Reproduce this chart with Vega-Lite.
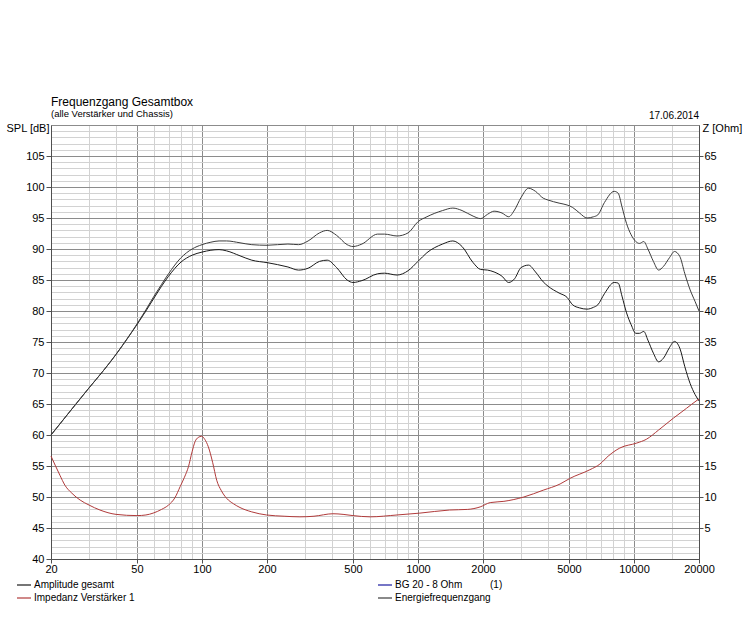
{
  "$schema": "https://vega.github.io/schema/vega-lite/v6.json",
  "width": 648,
  "height": 434,
  "autosize": {"type": "none"},
  "padding": {"left": 51, "top": 125, "right": 52, "bottom": 84},
  "background": "white",
  "config": {
    "font": "Liberation Sans",
    "view": {"stroke": "#707070"},
    "axis": {"labelFontSize": 11, "labelColor": "black", "titleFontSize": 11, "titleFontWeight": "normal", "titleColor": "black", "domainColor": "#505050", "tickColor": "#505050"}
  },
  "title": {
    "text": "Frequenzgang Gesamtbox",
    "subtitle": "(alle Verstärker und Chassis)",
    "anchor": "start",
    "frame": "group",
    "fontSize": 12,
    "fontWeight": "normal",
    "color": "black",
    "subtitleFontSize": 9.5,
    "subtitleColor": "black",
    "subtitlePadding": 0,
    "offset": -8
  },
  "datasets": {
    "spl": [
      {"f": 20, "v": 60.0, "s": "Amplitude gesamt"},
      {"f": 25, "v": 64.2, "s": "Amplitude gesamt"},
      {"f": 30, "v": 67.6, "s": "Amplitude gesamt"},
      {"f": 35, "v": 70.4, "s": "Amplitude gesamt"},
      {"f": 40, "v": 73.0, "s": "Amplitude gesamt"},
      {"f": 45, "v": 75.5, "s": "Amplitude gesamt"},
      {"f": 50, "v": 77.8, "s": "Amplitude gesamt"},
      {"f": 55, "v": 80.0, "s": "Amplitude gesamt"},
      {"f": 60, "v": 82.1, "s": "Amplitude gesamt"},
      {"f": 65, "v": 84.0, "s": "Amplitude gesamt"},
      {"f": 70, "v": 85.6, "s": "Amplitude gesamt"},
      {"f": 80, "v": 87.9, "s": "Amplitude gesamt"},
      {"f": 90, "v": 89.0, "s": "Amplitude gesamt"},
      {"f": 100, "v": 89.5, "s": "Amplitude gesamt"},
      {"f": 110, "v": 89.8, "s": "Amplitude gesamt"},
      {"f": 120, "v": 89.9, "s": "Amplitude gesamt"},
      {"f": 130, "v": 89.7, "s": "Amplitude gesamt"},
      {"f": 150, "v": 88.9, "s": "Amplitude gesamt"},
      {"f": 170, "v": 88.2, "s": "Amplitude gesamt"},
      {"f": 200, "v": 87.8, "s": "Amplitude gesamt"},
      {"f": 250, "v": 87.1, "s": "Amplitude gesamt"},
      {"f": 280, "v": 86.6, "s": "Amplitude gesamt"},
      {"f": 310, "v": 86.9, "s": "Amplitude gesamt"},
      {"f": 350, "v": 88.0, "s": "Amplitude gesamt"},
      {"f": 380, "v": 88.2, "s": "Amplitude gesamt"},
      {"f": 420, "v": 87.0, "s": "Amplitude gesamt"},
      {"f": 470, "v": 85.0, "s": "Amplitude gesamt"},
      {"f": 500, "v": 84.6, "s": "Amplitude gesamt"},
      {"f": 550, "v": 84.9, "s": "Amplitude gesamt"},
      {"f": 650, "v": 86.0, "s": "Amplitude gesamt"},
      {"f": 700, "v": 86.1, "s": "Amplitude gesamt"},
      {"f": 800, "v": 85.8, "s": "Amplitude gesamt"},
      {"f": 900, "v": 86.5, "s": "Amplitude gesamt"},
      {"f": 1000, "v": 88.0, "s": "Amplitude gesamt"},
      {"f": 1100, "v": 89.4, "s": "Amplitude gesamt"},
      {"f": 1300, "v": 90.8, "s": "Amplitude gesamt"},
      {"f": 1450, "v": 91.3, "s": "Amplitude gesamt"},
      {"f": 1600, "v": 90.4, "s": "Amplitude gesamt"},
      {"f": 1800, "v": 87.8, "s": "Amplitude gesamt"},
      {"f": 1950, "v": 86.7, "s": "Amplitude gesamt"},
      {"f": 2100, "v": 86.6, "s": "Amplitude gesamt"},
      {"f": 2250, "v": 86.3, "s": "Amplitude gesamt"},
      {"f": 2450, "v": 85.6, "s": "Amplitude gesamt"},
      {"f": 2630, "v": 84.6, "s": "Amplitude gesamt"},
      {"f": 2800, "v": 85.2, "s": "Amplitude gesamt"},
      {"f": 3000, "v": 87.0, "s": "Amplitude gesamt"},
      {"f": 3250, "v": 87.4, "s": "Amplitude gesamt"},
      {"f": 3500, "v": 86.3, "s": "Amplitude gesamt"},
      {"f": 3800, "v": 84.7, "s": "Amplitude gesamt"},
      {"f": 4000, "v": 84.0, "s": "Amplitude gesamt"},
      {"f": 4500, "v": 82.9, "s": "Amplitude gesamt"},
      {"f": 4900, "v": 82.2, "s": "Amplitude gesamt"},
      {"f": 5200, "v": 81.0, "s": "Amplitude gesamt"},
      {"f": 5600, "v": 80.5, "s": "Amplitude gesamt"},
      {"f": 6060, "v": 80.3, "s": "Amplitude gesamt"},
      {"f": 6500, "v": 80.6, "s": "Amplitude gesamt"},
      {"f": 6800, "v": 81.0, "s": "Amplitude gesamt"},
      {"f": 7300, "v": 82.8, "s": "Amplitude gesamt"},
      {"f": 8100, "v": 84.6, "s": "Amplitude gesamt"},
      {"f": 8450, "v": 84.5, "s": "Amplitude gesamt"},
      {"f": 8800, "v": 82.4, "s": "Amplitude gesamt"},
      {"f": 9240, "v": 79.7, "s": "Amplitude gesamt"},
      {"f": 9700, "v": 77.8, "s": "Amplitude gesamt"},
      {"f": 10200, "v": 76.4, "s": "Amplitude gesamt"},
      {"f": 10600, "v": 76.4, "s": "Amplitude gesamt"},
      {"f": 11100, "v": 76.7, "s": "Amplitude gesamt"},
      {"f": 11600, "v": 75.3, "s": "Amplitude gesamt"},
      {"f": 12300, "v": 73.2, "s": "Amplitude gesamt"},
      {"f": 13000, "v": 71.8, "s": "Amplitude gesamt"},
      {"f": 13700, "v": 72.4, "s": "Amplitude gesamt"},
      {"f": 14600, "v": 74.1, "s": "Amplitude gesamt"},
      {"f": 15400, "v": 75.1, "s": "Amplitude gesamt"},
      {"f": 16300, "v": 74.0, "s": "Amplitude gesamt"},
      {"f": 17200, "v": 71.0, "s": "Amplitude gesamt"},
      {"f": 18200, "v": 68.3, "s": "Amplitude gesamt"},
      {"f": 19200, "v": 66.5, "s": "Amplitude gesamt"},
      {"f": 20000, "v": 65.5, "s": "Amplitude gesamt"},
      {"f": 20, "v": 60.0, "s": "Energiefrequenzgang"},
      {"f": 25, "v": 64.2, "s": "Energiefrequenzgang"},
      {"f": 30, "v": 67.6, "s": "Energiefrequenzgang"},
      {"f": 35, "v": 70.4, "s": "Energiefrequenzgang"},
      {"f": 40, "v": 73.0, "s": "Energiefrequenzgang"},
      {"f": 45, "v": 75.5, "s": "Energiefrequenzgang"},
      {"f": 50, "v": 77.9, "s": "Energiefrequenzgang"},
      {"f": 55, "v": 80.2, "s": "Energiefrequenzgang"},
      {"f": 60, "v": 82.4, "s": "Energiefrequenzgang"},
      {"f": 65, "v": 84.3, "s": "Energiefrequenzgang"},
      {"f": 70, "v": 86.0, "s": "Energiefrequenzgang"},
      {"f": 80, "v": 88.6, "s": "Energiefrequenzgang"},
      {"f": 90, "v": 90.0, "s": "Energiefrequenzgang"},
      {"f": 100, "v": 90.7, "s": "Energiefrequenzgang"},
      {"f": 110, "v": 91.1, "s": "Energiefrequenzgang"},
      {"f": 120, "v": 91.3, "s": "Energiefrequenzgang"},
      {"f": 130, "v": 91.3, "s": "Energiefrequenzgang"},
      {"f": 150, "v": 91.0, "s": "Energiefrequenzgang"},
      {"f": 170, "v": 90.7, "s": "Energiefrequenzgang"},
      {"f": 200, "v": 90.6, "s": "Energiefrequenzgang"},
      {"f": 250, "v": 90.8, "s": "Energiefrequenzgang"},
      {"f": 280, "v": 90.7, "s": "Energiefrequenzgang"},
      {"f": 310, "v": 91.3, "s": "Energiefrequenzgang"},
      {"f": 350, "v": 92.6, "s": "Energiefrequenzgang"},
      {"f": 380, "v": 93.0, "s": "Energiefrequenzgang"},
      {"f": 420, "v": 92.2, "s": "Energiefrequenzgang"},
      {"f": 470, "v": 90.7, "s": "Energiefrequenzgang"},
      {"f": 500, "v": 90.4, "s": "Energiefrequenzgang"},
      {"f": 550, "v": 90.8, "s": "Energiefrequenzgang"},
      {"f": 650, "v": 92.4, "s": "Energiefrequenzgang"},
      {"f": 700, "v": 92.4, "s": "Energiefrequenzgang"},
      {"f": 800, "v": 92.1, "s": "Energiefrequenzgang"},
      {"f": 900, "v": 92.6, "s": "Energiefrequenzgang"},
      {"f": 1000, "v": 94.4, "s": "Energiefrequenzgang"},
      {"f": 1100, "v": 95.2, "s": "Energiefrequenzgang"},
      {"f": 1300, "v": 96.2, "s": "Energiefrequenzgang"},
      {"f": 1450, "v": 96.6, "s": "Energiefrequenzgang"},
      {"f": 1600, "v": 96.2, "s": "Energiefrequenzgang"},
      {"f": 1800, "v": 95.3, "s": "Energiefrequenzgang"},
      {"f": 1950, "v": 94.9, "s": "Energiefrequenzgang"},
      {"f": 2100, "v": 95.6, "s": "Energiefrequenzgang"},
      {"f": 2250, "v": 96.1, "s": "Energiefrequenzgang"},
      {"f": 2450, "v": 95.8, "s": "Energiefrequenzgang"},
      {"f": 2630, "v": 95.2, "s": "Energiefrequenzgang"},
      {"f": 2800, "v": 96.3, "s": "Energiefrequenzgang"},
      {"f": 3000, "v": 98.3, "s": "Energiefrequenzgang"},
      {"f": 3250, "v": 99.8, "s": "Energiefrequenzgang"},
      {"f": 3500, "v": 99.3, "s": "Energiefrequenzgang"},
      {"f": 3800, "v": 98.2, "s": "Energiefrequenzgang"},
      {"f": 4000, "v": 97.9, "s": "Energiefrequenzgang"},
      {"f": 4500, "v": 97.4, "s": "Energiefrequenzgang"},
      {"f": 4900, "v": 97.1, "s": "Energiefrequenzgang"},
      {"f": 5200, "v": 96.7, "s": "Energiefrequenzgang"},
      {"f": 5600, "v": 95.8, "s": "Energiefrequenzgang"},
      {"f": 6060, "v": 95.0, "s": "Energiefrequenzgang"},
      {"f": 6500, "v": 95.2, "s": "Energiefrequenzgang"},
      {"f": 6800, "v": 95.5, "s": "Energiefrequenzgang"},
      {"f": 7300, "v": 97.5, "s": "Energiefrequenzgang"},
      {"f": 8100, "v": 99.3, "s": "Energiefrequenzgang"},
      {"f": 8450, "v": 99.0, "s": "Energiefrequenzgang"},
      {"f": 8800, "v": 96.8, "s": "Energiefrequenzgang"},
      {"f": 9240, "v": 94.1, "s": "Energiefrequenzgang"},
      {"f": 9700, "v": 92.3, "s": "Energiefrequenzgang"},
      {"f": 10200, "v": 91.2, "s": "Energiefrequenzgang"},
      {"f": 10600, "v": 90.9, "s": "Energiefrequenzgang"},
      {"f": 11100, "v": 91.2, "s": "Energiefrequenzgang"},
      {"f": 11600, "v": 90.0, "s": "Energiefrequenzgang"},
      {"f": 12300, "v": 88.0, "s": "Energiefrequenzgang"},
      {"f": 13000, "v": 86.6, "s": "Energiefrequenzgang"},
      {"f": 13700, "v": 87.2, "s": "Energiefrequenzgang"},
      {"f": 14600, "v": 88.6, "s": "Energiefrequenzgang"},
      {"f": 15400, "v": 89.6, "s": "Energiefrequenzgang"},
      {"f": 16300, "v": 88.8, "s": "Energiefrequenzgang"},
      {"f": 17200, "v": 86.0, "s": "Energiefrequenzgang"},
      {"f": 18200, "v": 83.4, "s": "Energiefrequenzgang"},
      {"f": 19200, "v": 81.5, "s": "Energiefrequenzgang"},
      {"f": 20000, "v": 80.0, "s": "Energiefrequenzgang"}
    ],
    "imp": [
      {"f": 20, "z": 16.6, "s": "Impedanz Verstärker 1"},
      {"f": 22, "z": 13.5, "s": "Impedanz Verstärker 1"},
      {"f": 23.2, "z": 11.9, "s": "Impedanz Verstärker 1"},
      {"f": 25, "z": 10.6, "s": "Impedanz Verstärker 1"},
      {"f": 27.3, "z": 9.5, "s": "Impedanz Verstärker 1"},
      {"f": 30, "z": 8.7, "s": "Impedanz Verstärker 1"},
      {"f": 33.7, "z": 7.9, "s": "Impedanz Verstärker 1"},
      {"f": 40, "z": 7.2, "s": "Impedanz Verstärker 1"},
      {"f": 50, "z": 7.0, "s": "Impedanz Verstärker 1"},
      {"f": 55, "z": 7.1, "s": "Impedanz Verstärker 1"},
      {"f": 59.4, "z": 7.4, "s": "Impedanz Verstärker 1"},
      {"f": 65, "z": 8.0, "s": "Impedanz Verstärker 1"},
      {"f": 70, "z": 8.7, "s": "Impedanz Verstärker 1"},
      {"f": 75, "z": 9.9, "s": "Impedanz Verstärker 1"},
      {"f": 79.3, "z": 11.7, "s": "Impedanz Verstärker 1"},
      {"f": 83, "z": 13.2, "s": "Impedanz Verstärker 1"},
      {"f": 86.6, "z": 14.9, "s": "Impedanz Verstärker 1"},
      {"f": 90, "z": 17.3, "s": "Impedanz Verstärker 1"},
      {"f": 92.8, "z": 18.9, "s": "Impedanz Verstärker 1"},
      {"f": 96, "z": 19.6, "s": "Impedanz Verstärker 1"},
      {"f": 99.7, "z": 19.8, "s": "Impedanz Verstärker 1"},
      {"f": 103, "z": 19.3, "s": "Impedanz Verstärker 1"},
      {"f": 107, "z": 18.1, "s": "Impedanz Verstärker 1"},
      {"f": 112, "z": 15.6, "s": "Impedanz Verstärker 1"},
      {"f": 117, "z": 12.7, "s": "Impedanz Verstärker 1"},
      {"f": 123, "z": 11.0, "s": "Impedanz Verstärker 1"},
      {"f": 130, "z": 9.8, "s": "Impedanz Verstärker 1"},
      {"f": 140, "z": 8.9, "s": "Impedanz Verstärker 1"},
      {"f": 150, "z": 8.3, "s": "Impedanz Verstärker 1"},
      {"f": 170, "z": 7.6, "s": "Impedanz Verstärker 1"},
      {"f": 199, "z": 7.1, "s": "Impedanz Verstärker 1"},
      {"f": 240, "z": 6.9, "s": "Impedanz Verstärker 1"},
      {"f": 284, "z": 6.8, "s": "Impedanz Verstärker 1"},
      {"f": 330, "z": 6.9, "s": "Impedanz Verstärker 1"},
      {"f": 404, "z": 7.3, "s": "Impedanz Verstärker 1"},
      {"f": 450, "z": 7.2, "s": "Impedanz Verstärker 1"},
      {"f": 500, "z": 7.0, "s": "Impedanz Verstärker 1"},
      {"f": 600, "z": 6.8, "s": "Impedanz Verstärker 1"},
      {"f": 800, "z": 7.1, "s": "Impedanz Verstärker 1"},
      {"f": 1020, "z": 7.4, "s": "Impedanz Verstärker 1"},
      {"f": 1400, "z": 7.9, "s": "Impedanz Verstärker 1"},
      {"f": 1700, "z": 8.0, "s": "Impedanz Verstärker 1"},
      {"f": 1940, "z": 8.4, "s": "Impedanz Verstärker 1"},
      {"f": 2160, "z": 9.1, "s": "Impedanz Verstärker 1"},
      {"f": 2500, "z": 9.3, "s": "Impedanz Verstärker 1"},
      {"f": 3090, "z": 10.0, "s": "Impedanz Verstärker 1"},
      {"f": 3800, "z": 11.1, "s": "Impedanz Verstärker 1"},
      {"f": 4550, "z": 12.1, "s": "Impedanz Verstärker 1"},
      {"f": 5050, "z": 13.0, "s": "Impedanz Verstärker 1"},
      {"f": 6250, "z": 14.4, "s": "Impedanz Verstärker 1"},
      {"f": 6950, "z": 15.3, "s": "Impedanz Verstärker 1"},
      {"f": 7600, "z": 16.6, "s": "Impedanz Verstärker 1"},
      {"f": 8600, "z": 17.9, "s": "Impedanz Verstärker 1"},
      {"f": 10300, "z": 18.7, "s": "Impedanz Verstärker 1"},
      {"f": 11400, "z": 19.3, "s": "Impedanz Verstärker 1"},
      {"f": 13000, "z": 20.8, "s": "Impedanz Verstärker 1"},
      {"f": 15200, "z": 22.7, "s": "Impedanz Verstärker 1"},
      {"f": 17500, "z": 24.3, "s": "Impedanz Verstärker 1"},
      {"f": 19600, "z": 25.6, "s": "Impedanz Verstärker 1"},
      {"f": 20000, "z": 25.8, "s": "Impedanz Verstärker 1"}
    ],
    "date": [{"f": 20000, "d": "17.06.2014"}]
  },
  "resolve": {"scale": {"y": "independent"}},
  "layer": [
    {
      "data": {"name": "spl"},
      "mark": {"type": "line", "strokeWidth": 1, "interpolate": "monotone"},
      "encoding": {
        "x": {
          "field": "f", "type": "quantitative",
          "scale": {"type": "log", "domain": [20, 20000], "nice": false},
          "axis": {
            "title": null,
            "values": [20, 30, 40, 50, 60, 70, 80, 90, 100, 200, 300, 400, 500, 600, 700, 800, 900, 1000, 2000, 3000, 4000, 5000, 6000, 7000, 8000, 9000, 10000, 15000, 20000],
            "format": "d",
            "labelOverlap": false,
            "labelFlush": false,
            "labelPadding": 0,
            "labelExpr": "indexof([20,50,100,200,500,1000,2000,5000,10000,20000], datum.value) >= 0 ? datum.label : ''",
            "grid": true,
            "gridColor": {"condition": {"test": "indexof([50,100,200,500,1000,2000,5000,10000], datum.value) >= 0", "value": "#8c8c8c"}, "value": "#d2d2d2"},
            "tickSize": {"condition": {"test": "indexof([20,50,100,200,500,1000,2000,5000,10000,20000], datum.value) >= 0", "value": 4}, "value": 0}
          }
        },
        "y": {
          "field": "v", "type": "quantitative",
          "scale": {"domain": [40, 110], "nice": false, "zero": false},
          "axis": {
            "title": "SPL [dB]",
            "titleAngle": 0,
            "titleAlign": "right",
            "titleBaseline": "middle",
            "titleX": -2,
            "titleY": 3,
            "values": [40,41,42,43,44,45,46,47,48,49,50,51,52,53,54,55,56,57,58,59,60,61,62,63,64,65,66,67,68,69,70,71,72,73,74,75,76,77,78,79,80,81,82,83,84,85,86,87,88,89,90,91,92,93,94,95,96,97,98,99,100,101,102,103,104,105,106,107,108,109,110],
            "labelOverlap": false,
            "labelFlush": false,
            "labelPadding": 2,
            "labelExpr": "datum.value % 5 === 0 && datum.value < 110 ? datum.label : ''",
            "grid": true,
            "gridColor": {"condition": {"test": "datum.value % 5 === 0", "value": "#8c8c8c"}, "value": "#d2d2d2"},
            "tickSize": {"condition": {"test": "datum.value % 5 === 0 && datum.value < 110", "value": 5}, "value": 0}
          }
        },
        "color": {
          "field": "s", "type": "nominal",
          "scale": {
            "domain": ["Amplitude gesamt", "Impedanz Verstärker 1", "BG 20 - 8 Ohm\u00a0\u00a0\u00a0\u00a0\u00a0\u00a0\u00a0\u00a0\u00a0\u00a0(1)", "Energiefrequenzgang"],
            "range": ["#1a1a1a", "#b03a3a", "#1a1aa0", "#3c3c3c"]
          },
          "legend": {
            "title": null,
            "orient": "none",
            "legendX": -35,
            "legendY": 452,
            "columns": 2,
            "columnPadding": 240,
            "rowPadding": -2,
            "symbolType": "stroke",
            "symbolSize": 196,
            "symbolStrokeWidth": 1.2,
            "labelFontSize": 10,
            "labelColor": "black",
            "labelOffset": 2
          }
        }
      }
    },
    {
      "data": {"name": "imp"},
      "mark": {"type": "line", "strokeWidth": 1, "interpolate": "monotone"},
      "encoding": {
        "x": {"field": "f", "type": "quantitative"},
        "y": {
          "field": "z", "type": "quantitative",
          "scale": {"domain": [0, 70], "nice": false},
          "axis": {
            "orient": "right",
            "title": "Z [Ohm]",
            "titleAngle": 0,
            "titleAlign": "left",
            "titleBaseline": "middle",
            "titleX": 3,
            "titleY": 3,
            "values": [5, 10, 15, 20, 25, 30, 35, 40, 45, 50, 55, 60, 65],
            "grid": false,
            "tickSize": 4,
            "labelPadding": 1,
            "labelFlush": false
          }
        },
        "color": {"field": "s", "type": "nominal"}
      }
    },
    {
      "data": {"name": "date"},
      "mark": {"type": "text", "align": "right", "baseline": "alphabetic", "dy": -6, "fontSize": 10, "color": "black"},
      "encoding": {
        "x": {"field": "f", "type": "quantitative"},
        "y": {"datum": 110, "scale": {"domain": [40, 110], "nice": false}, "axis": null},
        "text": {"field": "d"}
      }
    }
  ]
}
